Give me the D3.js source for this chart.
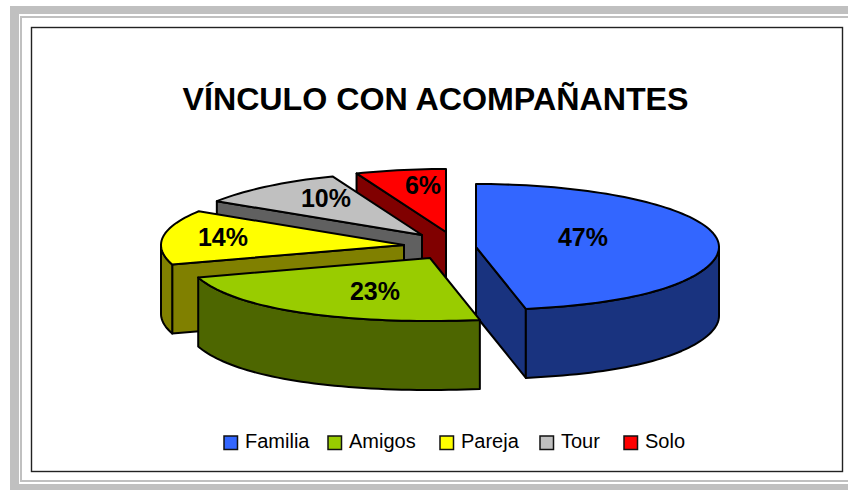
<!DOCTYPE html>
<html><head><meta charset="utf-8">
<script src="https://cdnjs.cloudflare.com/ajax/libs/d3/7.8.5/d3.min.js"></script>
<style>html,body{margin:0;padding:0;background:#fff}svg{display:block}text{font-family:"Liberation Sans",Arial,sans-serif}</style>
</head><body><div id="c"></div>
<script>
const categories = ["Familia","Amigos","Pareja","Tour","Solo"];
const values = [47,23,14,10,6];
const topColors = ["#3366ff","#99cc00","#ffff00","#c0c0c0","#ff0000"];
const wallColors = ["#19337f","#4d6600","#808000","#606060","#800000"];

// layout: exploded apex of each slice and label offset from the apex
const apexX = [476,430,404,422,446];
const apexY = [247,258,245,235,232];
const labelDX = [107,-55,-181,-96,-23];
const labelDY = [-10,33,-8,-37,-47];
const drawOrder = [4,3,2,0,1];

const W=848,H=490,rx=243,ry=63,depth=69;
const svg=d3.select("#c").append("svg").attr("width",W).attr("height",H);

// page frame
const gray="#c0c0c0";
svg.append("rect").attr("x",10).attr("y",6).attr("width",W-10).attr("height",8).attr("fill",gray);
svg.append("rect").attr("x",10).attr("y",6).attr("width",9).attr("height",H-6).attr("fill",gray);
svg.append("rect").attr("x",10).attr("y",484).attr("width",W-10).attr("height",6).attr("fill",gray);
svg.append("rect").attr("x",20).attr("y",16).attr("width",W-20).attr("height",2).attr("fill",gray);
svg.append("rect").attr("x",20).attr("y",16).attr("width",2).attr("height",466).attr("fill",gray);
svg.append("rect").attr("x",20).attr("y",480).attr("width",W-20).attr("height",2).attr("fill",gray);
svg.append("rect").attr("x",31.5).attr("y",27.5).attr("width",811).attr("height",444).attr("fill","#fff").attr("stroke","#222").attr("stroke-width",1.4);

svg.append("text").attr("x",435.5).attr("y",110).attr("text-anchor","middle")
  .attr("font-size",32.2).attr("font-weight","bold").attr("fill","#000").text("VÍNCULO CON ACOMPAÑANTES");

const slices=d3.pie().sort(null).value(d=>d)(values);
const color=d3.scaleOrdinal(d3.range(5),topColors);
const wall=d3.scaleOrdinal(d3.range(5),wallColors);
const line=d3.line();

// projection: tilted disc, enlarged towards the viewer near the front
function rim(i,a,dz=0){
  const c=Math.max(0,-Math.cos(a));
  const f=1+0.1*c*c*c;
  return [apexX[i]+rx*Math.sin(a)*f, apexY[i]-ry*Math.cos(a)+dz];
}
function arcPts(i,a0,a1,dz=0){
  const n=Math.max(2,Math.ceil(Math.abs(a1-a0)/0.03));
  return d3.range(n+1).map(k=>rim(i,a0+(a1-a0)*k/n,dz));
}
const g=svg.append("g").attr("stroke","#000").attr("stroke-width",2).attr("stroke-linejoin","round");
drawOrder.forEach(i=>{
  const s=slices[i],a=s.startAngle,b=s.endAngle;
  const A=[apexX[i],apexY[i]],Ad=[A[0],A[1]+depth];
  const wallFor=ang=>{
    g.append("path").attr("fill",wall(i)).attr("d",line([A,rim(i,ang),rim(i,ang,depth),Ad])+"Z");
  };
  if(Math.sin(a)<-1e-6) wallFor(a);
  if(Math.sin(b)>1e-6) wallFor(b);
  const fa=Math.max(a,Math.PI/2),fb=Math.min(b,Math.PI*1.5);
  if(fb>fa){
    const top=arcPts(i,fa,fb),bot=arcPts(i,fa,fb,depth).reverse();
    g.append("path").attr("fill",wall(i)).attr("d",line(top.concat(bot))+"Z");
  }
  g.append("path").attr("fill",color(i)).attr("d",line([A].concat(arcPts(i,a,b)))+"Z");
});

// labels
slices.forEach((s,i)=>{
  svg.append("text").attr("x",apexX[i]+labelDX[i]).attr("y",apexY[i]+labelDY[i]+9)
    .attr("text-anchor","middle").attr("font-size",25).attr("font-weight","bold").attr("fill","#000")
    .text(s.data+"%");
});

// legend
const swatchX=[224,328,440,540,624];
categories.forEach((c,i)=>{
  svg.append("rect").attr("x",swatchX[i]).attr("y",436).attr("width",13.5).attr("height",13.5)
    .attr("fill",topColors[i]).attr("stroke","#111").attr("stroke-width",1.5);
  svg.append("text").attr("x",swatchX[i]+21).attr("y",448).attr("font-size",20).attr("fill","#000").text(c);
});
</script></body></html>
